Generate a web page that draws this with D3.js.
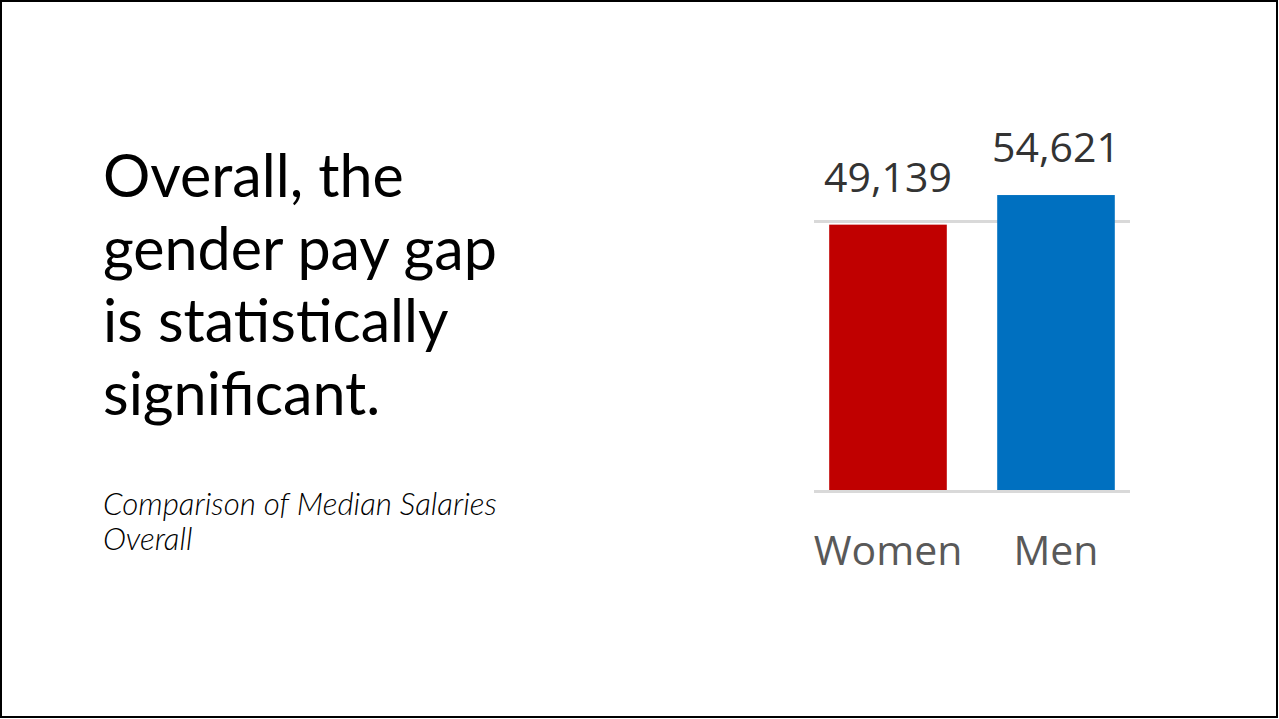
<!DOCTYPE html>
<html lang="en">
<head>
<meta charset="UTF-8">
<title>Gender pay gap</title>
<script src="https://d3js.org/d3.v7.min.js"></script>
<style>
    * { margin: 0; padding: 0; }
    body { background: #fff; }
    svg { display: block; }
</style>
</head>
<body>
<script>
    // data
    var categories = ["Women", "Men"];
    var salaries = [49139, 54621];
    var barColors = ["#C00000", "#0070C0"];
    var gridTicks = [0, 50000];
    var titleLines = ["Overall, the", "gender pay gap", "is statistically", "significant."];
    var noteLines = ["Comparison of Median Salaries", "Overall"];

    var W = 1279, H = 719;
    var svg = d3.select("body").append("svg")
        .attr("width", W)
        .attr("height", H);

    // slide frame
    svg.append("rect")
        .attr("x", 1).attr("y", 1)
        .attr("width", W - 3).attr("height", H - 3)
        .attr("fill", "#fff")
        .attr("stroke", "#000")
        .attr("stroke-width", 2);

    // title text
    var title = svg.append("g").attr("font-family", "Lato, 'Open Sans', sans-serif");
    title.selectAll("text")
        .data(titleLines)
        .enter()
        .append("text")
        .attr("x", 103)
        .attr("y", function (d, i) { return 197 + i * 72.5; })
        .attr("font-size", "58px")
        .attr("fill", "#000")
        .text(function (d) { return d; });

    // fit widest line to ~394px
    var widest = d3.max(title.selectAll("text").nodes(), function (n) { return n.getComputedTextLength(); });
    title.selectAll("text").attr("font-size", (58 * 394 / widest) + "px");

    var note = svg.append("g").attr("font-family", "Lato, 'Open Sans', sans-serif");
    note.selectAll("text")
        .data(noteLines)
        .enter()
        .append("text")
        .attr("x", 103)
        .attr("y", function (d, i) { return 515 + i * 35; })
        .attr("font-size", "26px")
        .attr("font-style", "italic")
        .attr("font-weight", 300)
        .attr("fill", "#000")
        .text(function (d) { return d; });
    var noteW = note.select("text").node().getComputedTextLength();
    note.selectAll("text").attr("font-size", (26 * 394 / noteW) + "px");

    // chart
    var x = d3.scaleBand()
        .domain(categories)
        .range([804, 1140])
        .paddingInner(0.3)
        .paddingOuter(0.15);

    var y = d3.scaleLinear()
        .domain([0, 60000])
        .range([490, 490 - 60000 * 270 / 50000]);

    var chart = svg.append("g");

    // gridlines
    chart.selectAll(".grid")
        .data(gridTicks)
        .enter()
        .append("line")
        .attr("class", "grid")
        .attr("x1", x.range()[0] + 10)
        .attr("x2", x.range()[1] - 10)
        .attr("y1", function (d) { return y(d) + 1.5; })
        .attr("y2", function (d) { return y(d) + 1.5; })
        .attr("stroke", "#d9d9d9")
        .attr("stroke-width", 3);

    // bars
    chart.selectAll(".bar")
        .data(salaries)
        .enter()
        .append("rect")
        .attr("class", "bar")
        .attr("x", function (d, i) { return x(categories[i]); })
        .attr("y", function (d) { return y(d); })
        .attr("width", x.bandwidth())
        .attr("height", function (d) { return y(0) - y(d); })
        .attr("fill", function (d, i) { return barColors[i]; });

    // value labels
    chart.selectAll(".val")
        .data(salaries)
        .enter()
        .append("text")
        .attr("class", "val")
        .attr("x", function (d, i) { return x(categories[i]) + x.bandwidth() / 2; })
        .attr("y", function (d) { return y(d) - 33; })
        .attr("text-anchor", "middle")
        .attr("font-family", "'Open Sans', sans-serif")
        .attr("font-size", "41px")
        .attr("fill", "#333")
        .text(function (d) { return d3.format(",")(d); });

    // category labels
    chart.selectAll(".cat")
        .data(categories)
        .enter()
        .append("text")
        .attr("class", "cat")
        .attr("x", function (d) { return x(d) + x.bandwidth() / 2; })
        .attr("y", 565)
        .attr("text-anchor", "middle")
        .attr("font-family", "'Open Sans', sans-serif")
        .attr("font-size", "41px")
        .attr("fill", "#595959")
        .text(function (d) { return d; });
</script>
</body>
</html>
